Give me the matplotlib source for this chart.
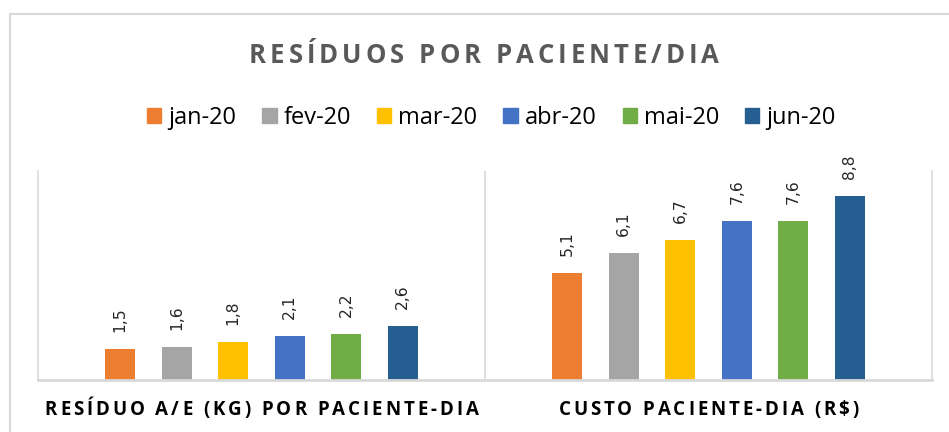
import matplotlib.pyplot as plt
import numpy as np
from matplotlib import font_manager, ft2font
from matplotlib.patches import Rectangle

# dados do grafico
meses = ["jan-20", "fev-20", "mar-20", "abr-20", "mai-20", "jun-20"]
categorias = ["RESÍDUO A/E (KG) POR PACIENTE-DIA", "CUSTO PACIENTE-DIA (R$)"]
residuo = [1.5, 1.6, 1.8, 2.1, 2.2, 2.6]   # kg por paciente-dia
custo = [5.1, 6.1, 6.7, 7.6, 7.6, 8.8]     # R$ por paciente-dia
cores = ["#ED7D31", "#A5A5A5", "#FFC000", "#4472C4", "#70AD47", "#255E91"]

W, H = 949, 432
fig = plt.figure(figsize=(W / 100, H / 100), dpi=100)
ax = fig.add_axes([38 / W, 1 - 380 / H, (932 - 38) / W, (380 - 171) / H])


def texto_espacado(s, xc, yb, largura, family, size, weight, color):
    """escreve s letra por letra (espacamento entre letras), centrado em xc, base em yb (pixels)"""
    fp = font_manager.FontProperties(family=family, weight=weight)
    f = ft2font.FT2Font(font_manager.findfont(fp))
    f.set_size(size, fig.dpi)
    av = [f.load_char(ord(c)).linearHoriAdvance / 65536 for c in s]
    esp = (largura - sum(av)) / (len(s) - 1)
    x = xc - largura / 2
    for c, a in zip(s, av):
        fig.text((x + a / 2) / W, 1 - yb / H, c, ha="center", va="baseline",
                 family=family, size=size, weight=weight, color=color)
        x += a + esp


x = np.arange(len(categorias))
passo = 0.1265
larg = 0.067
for i, (m, c) in enumerate(zip(meses, cores)):
    vals = [residuo[i], custo[i]]
    pos = x + (i - 2.5) * passo
    barras = ax.bar(pos, vals, width=larg, color=c, label=m)
    for b, v in zip(barras, vals):
        ax.annotate(f"{v:.1f}".replace(".", ","), (b.get_x() + b.get_width() / 2, v),
                    xytext=(0, 17), textcoords="offset pixels", rotation=90,
                    ha="center", va="bottom", fontsize=11.2, color="#262626",
                    family="DejaVu Sans")

ax.set_xlim(-0.5, 1.5)
ax.set_ylim(0, 10)
ax.set_xticks([])
ax.set_yticks([])
ax.spines["top"].set_visible(False)
for s in ["left", "right", "bottom"]:
    ax.spines[s].set_color("#d9d9d9")
    ax.spines[s].set_linewidth(1.2)
ax.spines["bottom"].set_linewidth(2)
ax.axvline(0.5, color="#d9d9d9", lw=1.2)

# moldura externa
fig.add_artist(Rectangle((10 / W, -0.2), 1.2, 1.2 - 14 / H, transform=fig.transFigure,
                         fill=False, edgecolor="#d9d9d9", lw=1.5))

# titulo
texto_espacado("RESÍDUOS POR PACIENTE/DIA", 484, 63, 470, "Open Sans", 18.5, "bold", "#595959")

# nomes das categorias
for i, nome in enumerate(categorias):
    xc = ax.transData.transform((i, 0))[0]
    largura = [434, 300][i]
    texto_espacado(nome, xc, 415, largura, "Open Sans", 13.5, "bold", "#000000")

# legenda
alcas = [Rectangle((0, 0), 1, 1, color=c) for c in cores]
fig.legend(alcas, meses, loc="center", bbox_to_anchor=(491.5 / W, 1 - 117.5 / H), ncol=6,
           frameon=False, handlelength=0.6, handleheight=0.6, handletextpad=0.3,
           columnspacing=1.1, prop=font_manager.FontProperties(family="Open Sans", size=17),
           labelcolor="#000000")

fig.savefig("out.png", dpi=100)
